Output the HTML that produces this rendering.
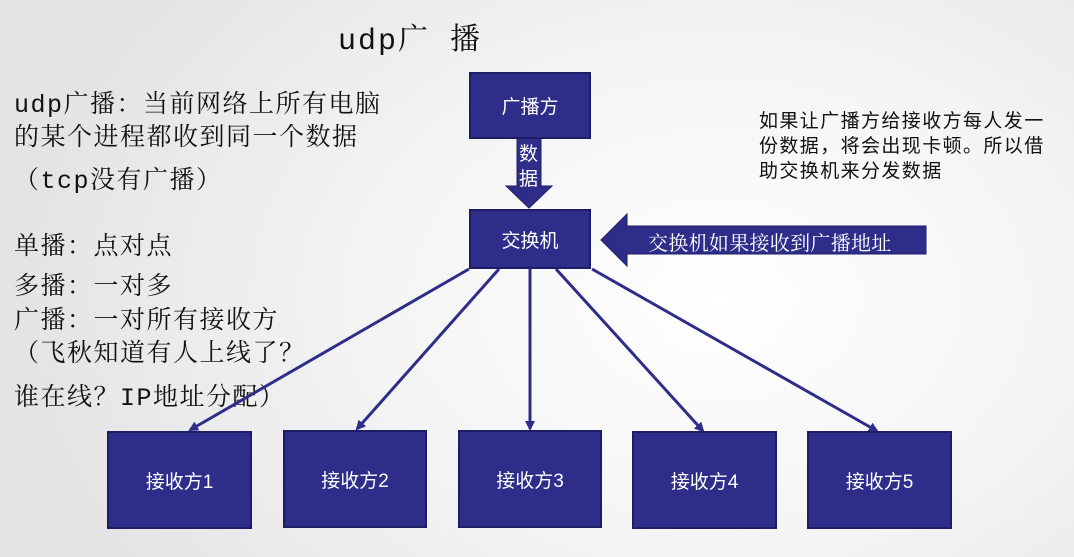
<!DOCTYPE html>
<html><head><meta charset="utf-8"><style>
html,body{margin:0;padding:0;}
body{width:1074px;height:557px;overflow:hidden;position:relative;
background:radial-gradient(ellipse 700px 500px at 720px 300px,#ffffff 0%,#f4f4f4 50%,#e4e4e4 100%);}
.t{position:absolute;font-family:"Liberation Mono","Noto Serif CJK SC",serif;color:#111;white-space:nowrap;letter-spacing:1.5px;}
.s{position:absolute;font-family:"Liberation Sans","Noto Sans CJK SC",sans-serif;color:#111;white-space:nowrap;}
.b{position:absolute;background:#2e2e8a;border:2px solid #1d1d66;box-sizing:border-box;color:#fff;display:flex;align-items:center;justify-content:center;font-family:"Liberation Sans","Noto Sans CJK SC",sans-serif;font-size:19px;}
</style></head><body>
<div class="t" style="left:338px;top:14px;font-size:30px;letter-spacing:2px;">udp广&nbsp;播</div>
<div class="t" style="left:14px;top:89px;font-size:25px;line-height:33px;">udp广播：当前网络上所有电脑<br>的某个进程都收到同一个数据</div>
<div class="t" style="left:14px;top:160px;font-size:25px;">（tcp没有广播）</div>
<div class="t" style="left:14px;top:226px;font-size:25px;">单播：点对点</div>
<div class="t" style="left:14px;top:266px;font-size:25px;">多播：一对多</div>
<div class="t" style="left:14px;top:305px;font-size:25px;line-height:33px;">广播：一对所有接收方<br>（飞秋知道有人上线了？</div>
<div class="t" style="left:14px;top:377px;font-size:25px;">谁在线？IP地址分配）</div>
<div class="s" style="left:759px;top:109px;font-size:19px;line-height:25px;letter-spacing:1.4px;">如果让广播方给接收方每人发一<br>份数据，将会出现卡顿。所以借<br>助交换机来分发数据</div>
<svg style="position:absolute;left:0;top:0" width="1074" height="557">
<defs><marker id="a" markerWidth="10" markerHeight="10" refX="8" refY="5" orient="auto" markerUnits="userSpaceOnUse"><path d="M0,0 L10,5 L0,10 Z" fill="#2e2e8a"/></marker></defs>
<polygon points="517,138 541,138 541,186 552,186 529,208 506,186 517,186" fill="#2e2e8a" stroke="#1d1d66" stroke-width="1"/>
<polygon points="601,240 627,214 627,226 926,226 926,254 627,254 627,266" fill="#2e2e8a" stroke="#1d1d66" stroke-width="1"/>
<g stroke="#2e2e8a" stroke-width="3" marker-end="url(#a)">
<line x1="469" y1="269" x2="190" y2="430"/>
<line x1="499" y1="269" x2="357" y2="429"/>
<line x1="530" y1="269" x2="530" y2="429"/>
<line x1="556" y1="269" x2="703" y2="431"/>
<line x1="592" y1="269" x2="877" y2="431"/>
</g>
</svg>
<div class="s" style="left:519px;top:142px;font-size:19px;line-height:25px;color:#fff;">数<br>据</div>
<div class="s" style="left:648px;top:227px;font-size:20px;color:#fff;font-family:'Liberation Serif','Noto Serif CJK SC',serif;letter-spacing:0.3px;">交换机如果接收到广播地址</div>
<div class="b" style="left:469px;top:72px;width:122px;height:67px;">广播方</div>
<div class="b" style="left:469px;top:209px;width:122px;height:60px;">交换机</div>
<div class="b" style="left:107px;top:431px;width:145px;height:98px;">接收方1</div>
<div class="b" style="left:283px;top:430px;width:144px;height:98px;">接收方2</div>
<div class="b" style="left:458px;top:430px;width:144px;height:98px;">接收方3</div>
<div class="b" style="left:632px;top:431px;width:145px;height:98px;">接收方4</div>
<div class="b" style="left:807px;top:431px;width:145px;height:98px;">接收方5</div>
</body></html>
